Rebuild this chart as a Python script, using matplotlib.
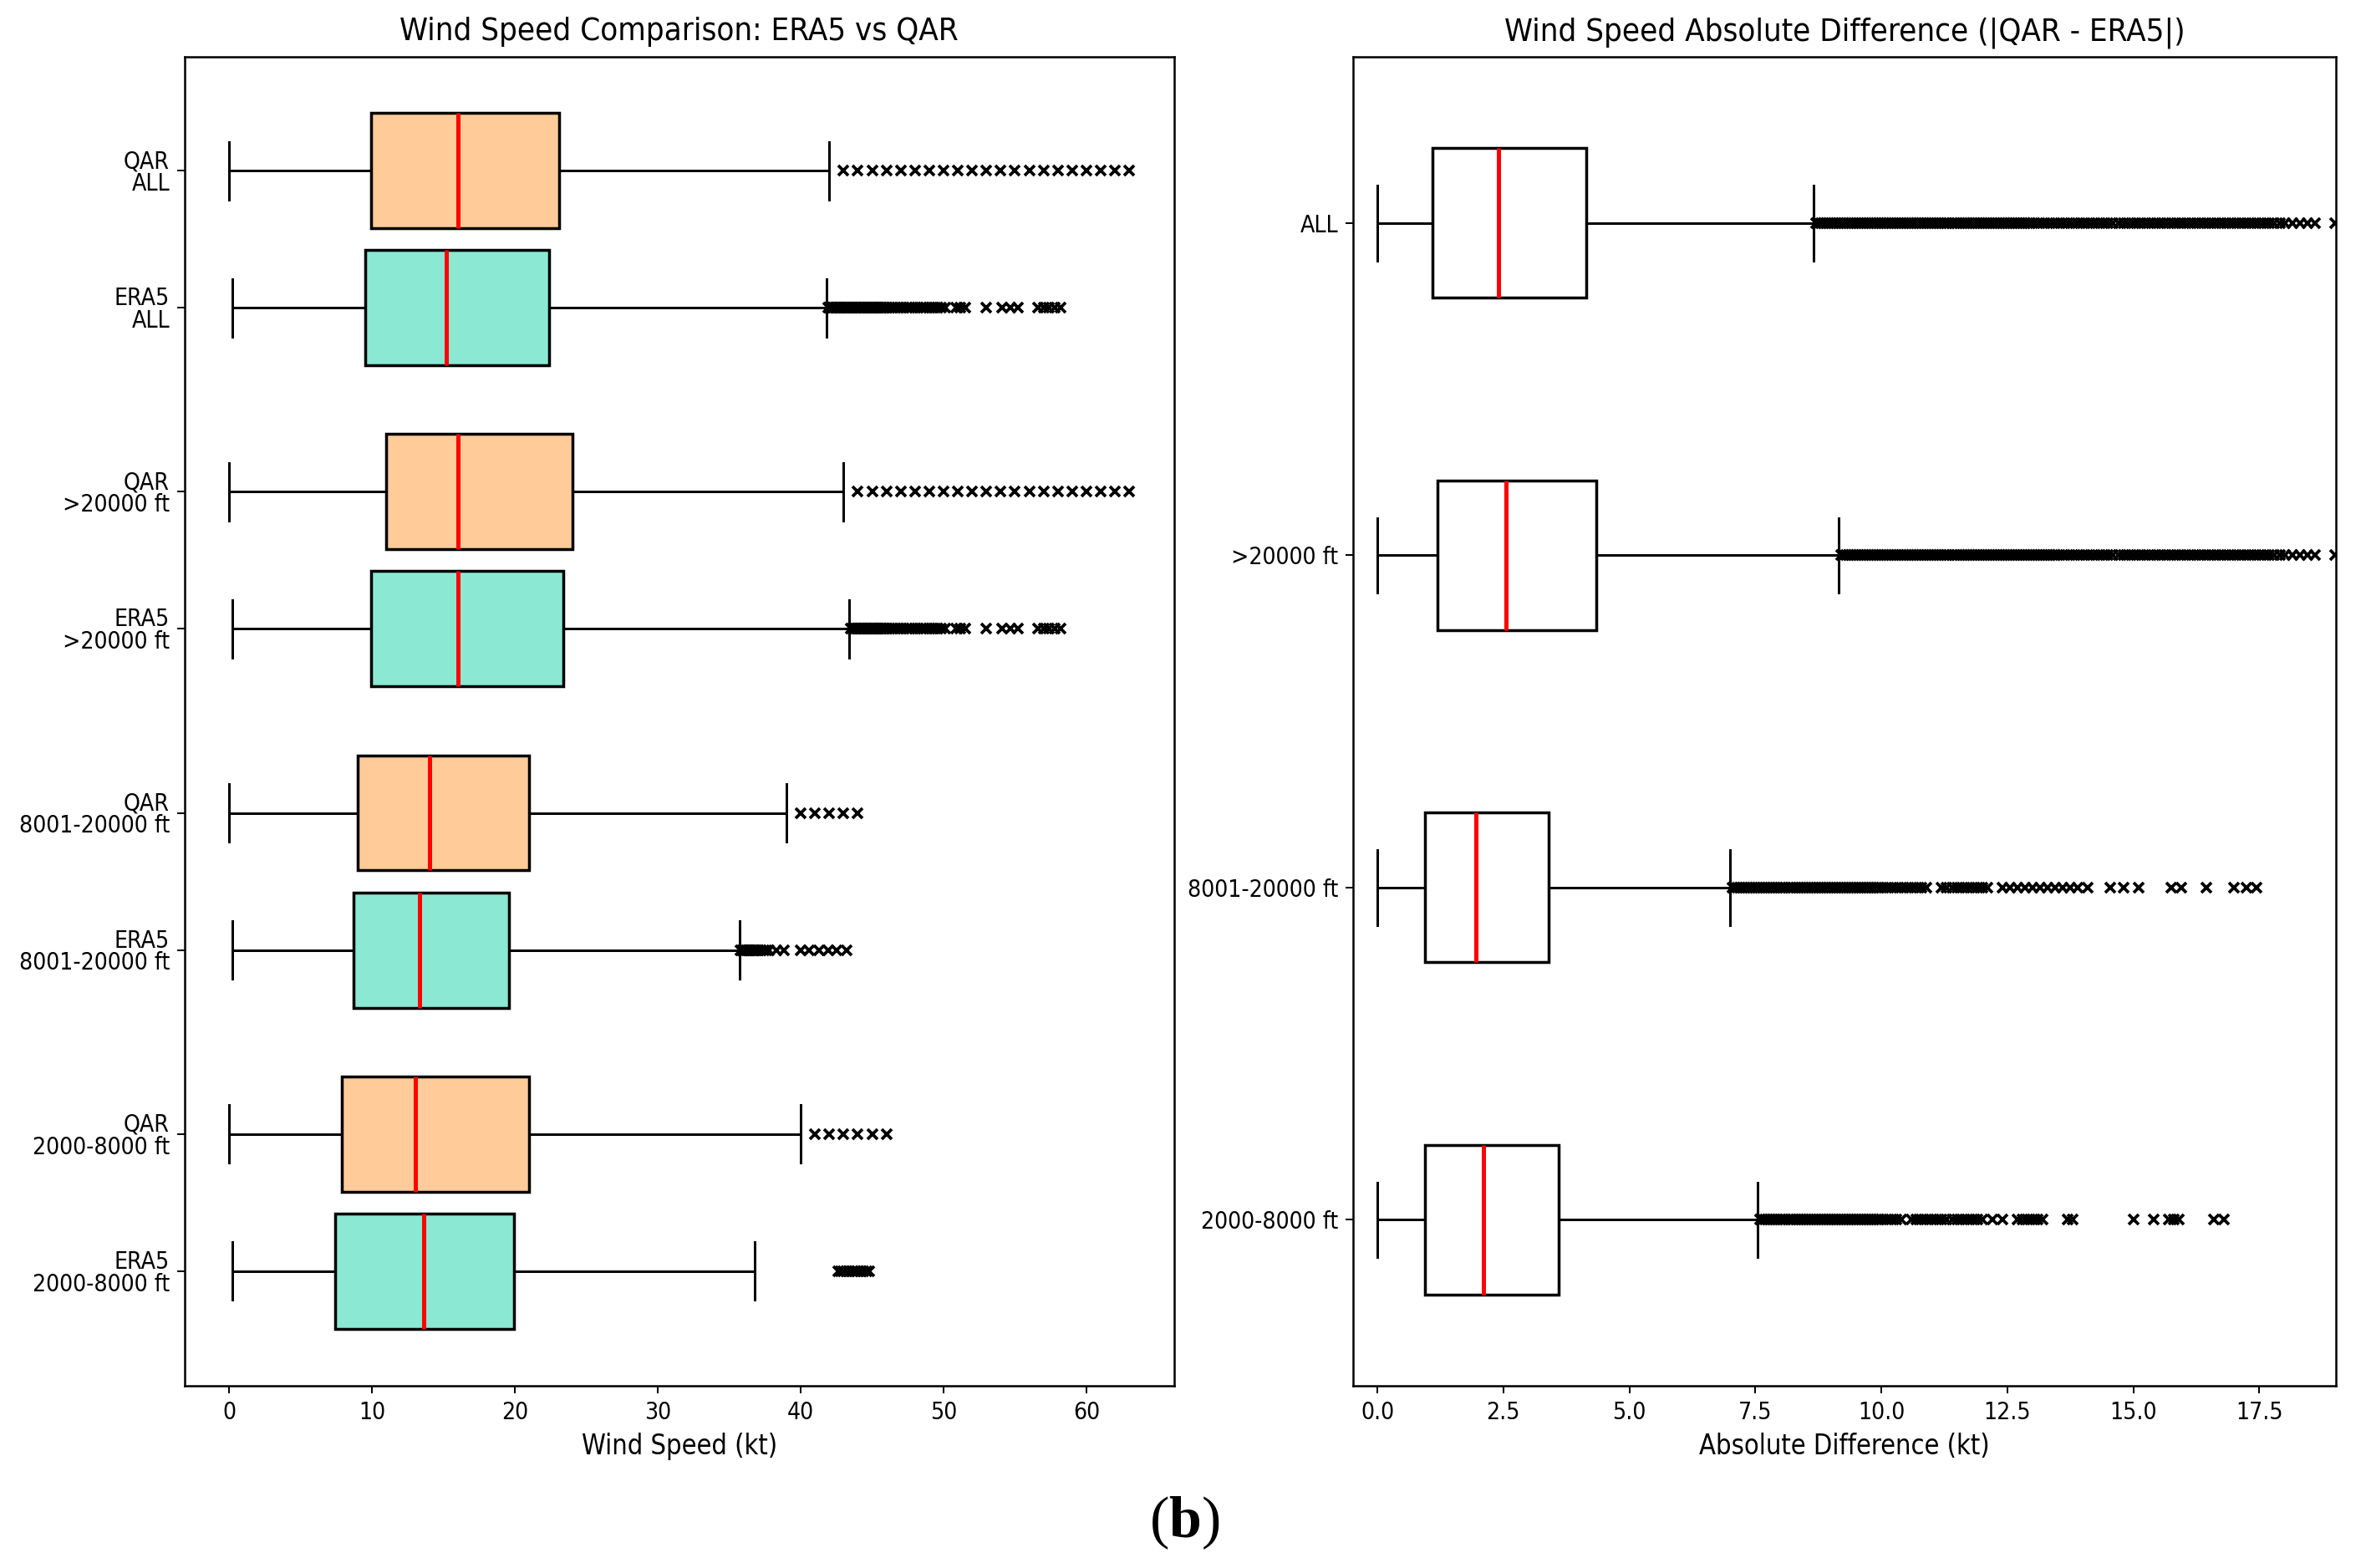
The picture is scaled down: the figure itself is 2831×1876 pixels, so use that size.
import matplotlib
matplotlib.use("Agg")
import matplotlib.pyplot as plt

plt.rcParams['font.family'] = ['DejaVu Sans']
plt.rcParams['font.stretch'] = 'condensed'
plt.rcParams['mathtext.fontset'] = 'custom'
plt.rcParams['mathtext.rm'] = 'Liberation Serif'
plt.rcParams['mathtext.bf'] = 'Liberation Serif:bold'

# ---------------- data: left panel (wind speed, kt) ----------------
ws_labels = ["QAR\nALL", "ERA5\nALL",
             "QAR\n>20000 ft", "ERA5\n>20000 ft",
             "QAR\n8001-20000 ft", "ERA5\n8001-20000 ft",
             "QAR\n2000-8000 ft", "ERA5\n2000-8000 ft"]
ws_source = ["QAR", "ERA5", "QAR", "ERA5", "QAR", "ERA5", "QAR", "ERA5"]
ws_whislo = [0.0, 0.2, 0.0, 0.2, 0.0, 0.2, 0.0, 0.2]
ws_q1 = [9.9, 9.5, 11.0, 9.9, 9.0, 8.7, 7.9, 7.4]
ws_med = [16.0, 15.2, 16.0, 16.0, 14.0, 13.3, 13.0, 13.6]
ws_q3 = [23.1, 22.4, 24.0, 23.4, 21.0, 19.6, 21.0, 19.9]
ws_whishi = [42.0, 41.8, 43.0, 43.4, 39.0, 35.7, 40.0, 36.8]

fl_qar_all = [43, 44, 45, 46, 47, 48, 49, 50, 51, 52, 53, 54, 55, 56, 57, 58, 59, 60, 61, 62, 63]
fl_era5_all = [41.9, 42.0, 42.1, 42.2, 42.3, 42.4, 42.5, 42.6, 42.7, 42.8, 42.9, 43.0, 43.1, 43.2,
               43.3, 43.4, 43.5, 43.6, 43.7, 43.8, 43.9, 44.0, 44.1, 44.2, 44.3, 44.4, 44.5, 44.6,
               44.7, 44.8, 44.9, 45.0, 45.1, 45.2, 45.3, 45.4, 45.5, 45.6, 45.7, 45.8, 45.9, 46.0,
               46.2, 46.4, 46.6, 46.8, 47.0, 47.2, 47.4, 47.6, 47.8, 48.0, 48.2, 48.4, 48.6, 48.8,
               49.0, 49.2, 49.4, 49.6, 49.8,
               50.1, 50.9, 51.2, 51.5, 53.0, 54.1, 54.7, 55.2, 56.6, 57.0, 57.4, 57.8, 58.2]
fl_qar_20k = [44, 45, 46, 47, 48, 49, 50, 51, 52, 53, 54, 55, 56, 57, 58, 59, 60, 61, 62, 63]
fl_era5_20k = [43.5, 43.6, 43.7, 43.8, 43.9, 44.0, 44.1, 44.2, 44.3, 44.4, 44.5, 44.6, 44.7, 44.8,
               44.9, 45.0, 45.1, 45.2, 45.3, 45.4, 45.5, 45.6, 45.7, 45.8, 45.9, 46.0,
               46.2, 46.4, 46.6, 46.8, 47.0, 47.2, 47.4, 47.6, 47.8, 48.0, 48.2, 48.4, 48.6, 48.8,
               49.0, 49.2, 49.4, 49.6, 49.8,
               50.1, 50.9, 51.2, 51.5, 53.0, 54.1, 54.7, 55.2, 56.6, 57.0, 57.4, 57.8, 58.2]
fl_qar_8k = [40, 41, 42, 43, 44]
fl_era5_8k = [35.8, 35.9, 36.0, 36.1, 36.2, 36.3, 36.4, 36.5, 36.6, 36.7, 36.8, 36.9, 37.0, 37.2,
              37.4, 37.6, 37.8, 38.3, 38.8, 40.0, 40.6, 41.3, 41.9, 42.5, 43.2]
fl_qar_2k = [41, 42, 43, 44, 45, 46]
fl_era5_2k = [42.6, 42.8, 43.0, 43.2, 43.4, 43.6, 43.8, 44.0, 44.2, 44.4, 44.6, 44.8]
ws_fliers = [fl_qar_all, fl_era5_all, fl_qar_20k, fl_era5_20k,
             fl_qar_8k, fl_era5_8k, fl_qar_2k, fl_era5_2k]

# ---------------- data: right panel (absolute difference, kt) ----------------
diff_labels = ["ALL", ">20000 ft", "8001-20000 ft", "2000-8000 ft"]
diff_whislo = [0.0, 0.0, 0.0, 0.0]
diff_q1 = [1.1, 1.2, 0.95, 0.95]
diff_med = [2.4, 2.55, 1.95, 2.1]
diff_q3 = [4.15, 4.35, 3.4, 3.6]
diff_whishi = [8.65, 9.15, 7.0, 7.55]

dfl_all = [8.70, 8.75, 8.80, 8.85, 8.90, 8.95,
           9.00, 9.05, 9.10, 9.15, 9.20, 9.25, 9.30, 9.35, 9.40, 9.45,
           9.50, 9.55, 9.60, 9.65, 9.70, 9.75, 9.80, 9.85, 9.90, 9.95,
           10.00, 10.05, 10.10, 10.15, 10.20, 10.25, 10.30, 10.35, 10.40, 10.45,
           10.50, 10.55, 10.60, 10.65, 10.70, 10.75, 10.80, 10.85, 10.90, 10.95,
           11.00, 11.05, 11.10, 11.15, 11.20, 11.25, 11.30, 11.35, 11.40, 11.45,
           11.50, 11.55, 11.60, 11.65, 11.70, 11.75, 11.80, 11.85, 11.90, 11.95,
           12.00, 12.05, 12.10, 12.15, 12.20, 12.25, 12.30, 12.35, 12.40, 12.45,
           12.50, 12.55, 12.60, 12.65, 12.70, 12.75, 12.80, 12.85, 12.90, 12.95,
           13.0, 13.1, 13.2, 13.3, 13.4, 13.5, 13.6, 13.7, 13.8, 13.9,
           14.0, 14.1, 14.2, 14.3, 14.4, 14.5, 14.6, 14.7, 14.8, 14.9,
           15.0, 15.1, 15.2, 15.3, 15.4, 15.5, 15.6, 15.7, 15.8, 15.9,
           16.0, 16.1, 16.2, 16.3, 16.4, 16.5, 16.6, 16.7, 16.8, 16.9,
           17.0, 17.1, 17.2, 17.3, 17.4, 17.5, 17.6, 17.7, 17.8, 17.9,
           18.0, 18.15, 18.3, 18.45, 18.6, 19.0]
dfl_20k = [9.20, 9.25, 9.30, 9.35, 9.40, 9.45,
           9.50, 9.55, 9.60, 9.65, 9.70, 9.75, 9.80, 9.85, 9.90, 9.95,
           10.00, 10.05, 10.10, 10.15, 10.20, 10.25, 10.30, 10.35, 10.40, 10.45,
           10.50, 10.55, 10.60, 10.65, 10.70, 10.75, 10.80, 10.85, 10.90, 10.95,
           11.00, 11.05, 11.10, 11.15, 11.20, 11.25, 11.30, 11.35, 11.40, 11.45,
           11.50, 11.55, 11.60, 11.65, 11.70, 11.75, 11.80, 11.85, 11.90, 11.95,
           12.00, 12.05, 12.10, 12.15, 12.20, 12.25, 12.30, 12.35, 12.40, 12.45,
           12.50, 12.55, 12.60, 12.65, 12.70, 12.75, 12.80, 12.85, 12.90, 12.95,
           13.00, 13.05, 13.10, 13.15, 13.20, 13.25, 13.30, 13.35, 13.40, 13.45,
           13.5, 13.6, 13.7, 13.8, 13.9,
           14.0, 14.1, 14.2, 14.3, 14.4, 14.5, 14.6, 14.7, 14.8, 14.9,
           15.0, 15.1, 15.2, 15.3, 15.4, 15.5, 15.6, 15.7, 15.8, 15.9,
           16.0, 16.1, 16.2, 16.3, 16.4, 16.5, 16.6, 16.7, 16.8, 16.9,
           17.0, 17.1, 17.2, 17.3, 17.4, 17.5, 17.6, 17.7, 17.8, 17.9,
           18.0, 18.15, 18.3, 18.45, 18.6, 19.0]
dfl_8k = [7.05, 7.10, 7.15, 7.20, 7.25, 7.30, 7.35, 7.40, 7.45,
          7.50, 7.55, 7.60, 7.65, 7.70, 7.75, 7.80, 7.85, 7.90, 7.95,
          8.00, 8.05, 8.10, 8.15, 8.20, 8.25, 8.30, 8.35, 8.40, 8.45,
          8.50, 8.55, 8.60, 8.65, 8.70, 8.75, 8.80, 8.85, 8.90, 8.95,
          9.00, 9.05, 9.10, 9.15, 9.20, 9.25, 9.30, 9.35, 9.40, 9.45,
          9.50, 9.55, 9.60, 9.65, 9.70, 9.75, 9.80, 9.85, 9.90, 9.95,
          10.0, 10.1, 10.2, 10.3, 10.4, 10.5, 10.6, 10.7, 10.8, 10.9,
          11.2, 11.3, 11.4, 11.5, 11.6, 11.7, 11.8, 11.9, 12.0, 12.1,
          12.4, 12.55, 12.7, 12.85, 13.0, 13.15, 13.3, 13.45, 13.6, 13.75, 13.9, 14.1,
          14.55, 14.8, 15.1, 15.75, 15.95, 16.45, 17.0, 17.25, 17.45]
dfl_2k = [7.60, 7.65, 7.70, 7.75, 7.80, 7.85, 7.90, 7.95,
          8.00, 8.05, 8.10, 8.15, 8.20, 8.25, 8.30, 8.35, 8.40, 8.45,
          8.50, 8.55, 8.60, 8.65, 8.70, 8.75, 8.80, 8.85, 8.90, 8.95,
          9.00, 9.05, 9.10, 9.15, 9.20, 9.25, 9.30, 9.35, 9.40, 9.45,
          9.50, 9.55, 9.60, 9.65, 9.70, 9.75, 9.80, 9.85, 9.90, 9.95,
          10.0, 10.1, 10.2, 10.3, 10.4,
          10.6, 10.7, 10.8, 10.9, 11.0, 11.1, 11.2, 11.3, 11.4, 11.5, 11.6, 11.7, 11.8, 11.9, 12.0,
          12.2, 12.4, 12.7, 12.8, 12.9, 13.0, 13.1, 13.2, 13.7, 13.8,
          15.0, 15.4, 15.7, 15.8, 15.9, 16.6, 16.8]
diff_fliers = [dfl_all, dfl_20k, dfl_8k, dfl_2k]

# ---------------- styles ----------------
fill_colors = {"QAR": "#FFCC99", "ERA5": "#8BE8D2"}
box_lw = 1.4
whisk_lw = 1.2
med_kw = dict(color="red", linewidth=2.0)
flier_kw = dict(marker="x", markersize=4.6, markeredgecolor="black",
                markeredgewidth=1.5, linestyle="none")

fig = plt.figure(figsize=(2831 / 180, 1876 / 180), dpi=180)
ax1 = fig.add_axes([0.0779, 0.1162, 0.4184, 0.8475])
ax2 = fig.add_axes([0.5719, 0.1162, 0.4154, 0.8475])

# ---- left panel ----
stats1 = []
for i in range(len(ws_labels)):
    stats1.append(dict(whislo=ws_whislo[i], q1=ws_q1[i], med=ws_med[i],
                       q3=ws_q3[i], whishi=ws_whishi[i], fliers=ws_fliers[i],
                       label=ws_labels[i]))
pos1 = []
for i in range(len(ws_labels)):
    g = i // 2
    pos1.append(g - 0.2135 if i % 2 == 0 else g + 0.2135)

bp1 = ax1.bxp(stats1, positions=pos1, widths=0.359, orientation='horizontal',
              patch_artist=True, manage_ticks=False,
              boxprops=dict(edgecolor="black", linewidth=box_lw),
              whiskerprops=dict(color="black", linewidth=whisk_lw),
              capprops=dict(color="black", linewidth=whisk_lw),
              medianprops=med_kw, flierprops=flier_kw)
for patch, src in zip(bp1["boxes"], ws_source):
    patch.set_facecolor(fill_colors[src])

ax1.set_yticks(pos1)
ax1.set_yticklabels(ws_labels)
for lbl in ax1.get_yticklabels():
    lbl.set_linespacing(0.95)
ax1.set_ylim(3.571, -0.568)
ax1.set_xticks([0, 10, 20, 30, 40, 50, 60])
ax1.set_xlim(-3.15, 66.15)
ax1.set_xlabel("Wind Speed (kt)", fontsize=13)
ax1.set_title("Wind Speed Comparison: ERA5 vs QAR", fontsize=15.3, pad=8)

# ---- right panel ----
stats2 = []
for i in range(len(diff_labels)):
    stats2.append(dict(whislo=diff_whislo[i], q1=diff_q1[i], med=diff_med[i],
                       q3=diff_q3[i], whishi=diff_whishi[i], fliers=diff_fliers[i],
                       label=diff_labels[i]))
pos2 = [1, 2, 3, 4]
bp2 = ax2.bxp(stats2, positions=pos2, widths=0.45, orientation='horizontal',
              patch_artist=True, manage_ticks=False,
              boxprops=dict(edgecolor="black", facecolor="white", linewidth=box_lw),
              whiskerprops=dict(color="black", linewidth=whisk_lw),
              capprops=dict(color="black", linewidth=whisk_lw),
              medianprops=med_kw, flierprops=flier_kw)
ax2.set_yticks(pos2)
ax2.set_yticklabels(diff_labels)
ax2.set_ylim(4.5, 0.5)
ax2.set_xticks([0.0, 2.5, 5.0, 7.5, 10.0, 12.5, 15.0, 17.5])
ax2.set_xticklabels(["0.0", "2.5", "5.0", "7.5", "10.0", "12.5", "15.0", "17.5"])
ax2.set_xlim(-0.48, 19.02)
ax2.set_xlabel("Absolute Difference (kt)", fontsize=13)
ax2.set_title("Wind Speed Absolute Difference (|QAR - ERA5|)", fontsize=15.3, pad=8)

for ax in (ax1, ax2):
    ax.tick_params(labelsize=11.3)
    for sp in ax.spines.values():
        sp.set_linewidth(1.0)

fig.text(0.5005, 0.029, r"($\mathbf{b}$)", ha="center", va="center",
         fontsize=28, family="Liberation Serif")

fig.savefig("out.png", dpi=180)
